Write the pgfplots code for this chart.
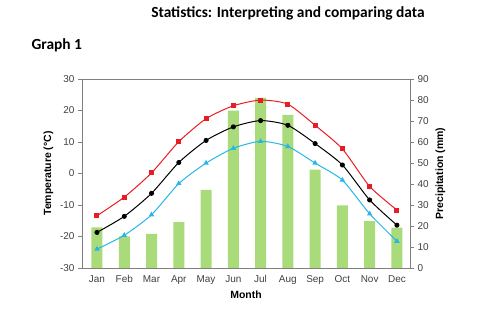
\documentclass[border=0pt]{standalone}
\usepackage{pgfplots}
\pgfplotsset{compat=1.18}
\usepackage{fontspec}
\setmainfont{Liberation Sans}
\newfontfamily\titlefont{Carlito}
\definecolor{barGreen}{RGB}{170,219,122}
\definecolor{lineRed}{RGB}{232,28,36}
\definecolor{lineCyan}{RGB}{38,182,232}
\definecolor{frameGray}{RGB}{128,128,128}

\begin{document}
\begin{tikzpicture}[x=1bp,y=1bp]
\useasboundingbox (0,0) rectangle (497,309);
\node[font=\titlefont\bfseries\fontsize{15.5}{18}\selectfont] at (288,296) {Statistics: Interpreting and comparing data};
\node[anchor=west, font=\titlefont\bfseries\fontsize{15.5}{18}\selectfont] at (28,264) {Graph 1};

% precipitation (bars, right axis)
\begin{axis}[
    at={(82bp,41bp)}, anchor=south west,
    scale only axis, width=328bp, height=189bp,
    xmin=-0.55, xmax=11.48, ymin=0, ymax=90,
    axis x line=none, axis y line*=right,
    ytick={0,10,...,90},
    tick align=outside, major tick length=4bp,
    axis line style={frameGray}, tick style={frameGray},
    ticklabel style={font=\fontsize{10}{12}\selectfont, text=black!75},
    /pgf/number format/assume math mode=true,
    ylabel={\bfseries Precipitation (mm)},
    ylabel style={font=\fontsize{10.5}{12}\selectfont},
    ]
\addplot[ybar, bar width=11bp, fill=barGreen, draw=none] coordinates {
    (0,19.3)(1,15.1)(2,16.2)(3,21.9)(4,37.2)(5,75.0)
    (6,81.0)(7,72.9)(8,46.9)(9,29.8)(10,22.3)(11,19.2)
};
\end{axis}

% temperature (lines, left axis)
\begin{axis}[
    at={(82bp,41bp)}, anchor=south west,
    scale only axis, width=328bp, height=189bp,
    xmin=-0.55, xmax=11.48, ymin=-30, ymax=30,
    ytick={-30,-20,...,30}, ytick pos=left,
    xtick={0,...,11},
    xticklabels={Jan,Feb,Mar,Apr,May,Jun,Jul,Aug,Sep,Oct,Nov,Dec},
    xtick style={draw=none},
    tick align=outside, major tick length=4bp,
    axis line style={frameGray}, tick style={frameGray},
    ticklabel style={font=\fontsize{10}{12}\selectfont, text=black!75},
    /pgf/number format/assume math mode=true,
    xlabel={\bfseries Month},
    ylabel={\bfseries Temperature (°C)},
    label style={font=\fontsize{10.5}{12}\selectfont},
    ]
\addplot[lineRed, line width=1pt, smooth, tension=0.4, mark=square*, mark size=2bp] coordinates {
    (0,-13.4)(1,-7.5)(2,0.2)(3,10.1)(4,17.4)(5,21.5)
    (6,23.3)(7,22.0)(8,15.3)(9,7.8)(10,-4.1)(11,-11.6)
};
\addplot[black, line width=1pt, smooth, tension=0.4, mark=*, mark size=2bp] coordinates {
    (0,-18.7)(1,-13.6)(2,-6.3)(3,3.5)(4,10.5)(5,14.8)
    (6,16.8)(7,15.3)(8,9.5)(9,2.7)(10,-8.4)(11,-16.4)
};
\addplot[lineCyan, line width=1pt, smooth, tension=0.4, mark=triangle*, mark size=2.2bp] coordinates {
    (0,-24.0)(1,-19.6)(2,-13.1)(3,-3.2)(4,3.3)(5,8.0)
    (6,10.2)(7,8.6)(8,3.3)(9,-2.1)(10,-12.8)(11,-21.5)
};
\end{axis}
\end{tikzpicture}
\end{document}
